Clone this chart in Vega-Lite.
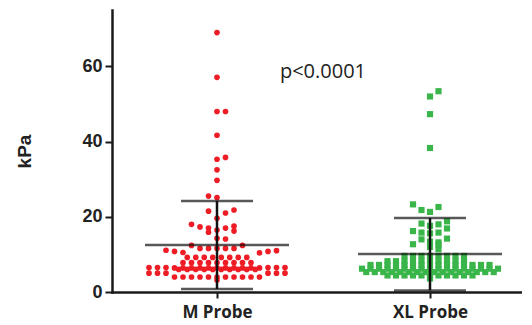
{
  "$schema": "https://vega.github.io/schema/vega-lite/v6.json",
  "autosize": "none",
  "width": 410,
  "height": 282,
  "padding": {"left": 112, "top": 10, "right": 0, "bottom": 33},
  "background": "white",
  "config": {"view": {"stroke": null}},
  "datasets": {
    "pts": [
      {"probe":"M Probe","kPa":69.0,"slot":0},{"probe":"M Probe","kPa":57.1,"slot":0},{"probe":"M Probe","kPa":48.0,"slot":0},{"probe":"M Probe","kPa":48.0,"slot":1},
      {"probe":"M Probe","kPa":41.7,"slot":0},{"probe":"M Probe","kPa":35.8,"slot":1},{"probe":"M Probe","kPa":35.3,"slot":0},{"probe":"M Probe","kPa":32.5,"slot":0},
      {"probe":"M Probe","kPa":29.7,"slot":0},{"probe":"M Probe","kPa":25.5,"slot":-1},{"probe":"M Probe","kPa":25.1,"slot":0},
      {"probe":"M Probe","kPa":21.5,"slot":-1},{"probe":"M Probe","kPa":21.0,"slot":1},{"probe":"M Probe","kPa":21.8,"slot":2},{"probe":"M Probe","kPa":19.6,"slot":0},
      {"probe":"M Probe","kPa":18.0,"slot":-3},{"probe":"M Probe","kPa":17.3,"slot":-2},{"probe":"M Probe","kPa":17.0,"slot":-1},{"probe":"M Probe","kPa":15.9,"slot":-1},
      {"probe":"M Probe","kPa":16.5,"slot":0},{"probe":"M Probe","kPa":17.0,"slot":1},{"probe":"M Probe","kPa":17.5,"slot":2},{"probe":"M Probe","kPa":16.2,"slot":2},
      {"probe":"M Probe","kPa":14.3,"slot":0},{"probe":"M Probe","kPa":14.1,"slot":1},
      {"probe":"M Probe","kPa":12.4,"slot":-3},{"probe":"M Probe","kPa":12.4,"slot":3},
      {"probe":"M Probe","kPa":11.6,"slot":-2},{"probe":"M Probe","kPa":11.6,"slot":-1},{"probe":"M Probe","kPa":11.6,"slot":0},{"probe":"M Probe","kPa":11.6,"slot":1},{"probe":"M Probe","kPa":11.6,"slot":2},
      {"probe":"M Probe","kPa":11.1,"slot":-6},{"probe":"M Probe","kPa":10.8,"slot":-5},{"probe":"M Probe","kPa":10.5,"slot":-4},{"probe":"M Probe","kPa":10.4,"slot":5},{"probe":"M Probe","kPa":10.8,"slot":6},{"probe":"M Probe","kPa":11.0,"slot":7},
      {"probe":"M Probe","kPa":9.2,"slot":-3.5},{"probe":"M Probe","kPa":9.2,"slot":-2.5},{"probe":"M Probe","kPa":9.2,"slot":-1.5},{"probe":"M Probe","kPa":9.2,"slot":-0.5},
      {"probe":"M Probe","kPa":9.2,"slot":0.5},{"probe":"M Probe","kPa":9.2,"slot":1.5},{"probe":"M Probe","kPa":9.2,"slot":2.5},{"probe":"M Probe","kPa":9.2,"slot":3.5},
      {"probe":"M Probe","kPa":7.8,"slot":-4},{"probe":"M Probe","kPa":7.8,"slot":-3},{"probe":"M Probe","kPa":7.8,"slot":-2},{"probe":"M Probe","kPa":7.8,"slot":-1},{"probe":"M Probe","kPa":7.8,"slot":0},
      {"probe":"M Probe","kPa":7.8,"slot":1},{"probe":"M Probe","kPa":7.8,"slot":2},{"probe":"M Probe","kPa":7.8,"slot":3},{"probe":"M Probe","kPa":7.8,"slot":4},
      {"probe":"M Probe","kPa":6.5,"slot":-8},{"probe":"M Probe","kPa":6.5,"slot":-7},{"probe":"M Probe","kPa":6.5,"slot":-6},{"probe":"M Probe","kPa":6.4,"slot":-5},{"probe":"M Probe","kPa":6.4,"slot":-4},
      {"probe":"M Probe","kPa":6.4,"slot":-3},{"probe":"M Probe","kPa":6.4,"slot":-2},{"probe":"M Probe","kPa":6.4,"slot":-1},{"probe":"M Probe","kPa":6.4,"slot":0},{"probe":"M Probe","kPa":6.4,"slot":1},
      {"probe":"M Probe","kPa":6.4,"slot":2},{"probe":"M Probe","kPa":6.4,"slot":3},{"probe":"M Probe","kPa":6.4,"slot":4},{"probe":"M Probe","kPa":6.4,"slot":5},{"probe":"M Probe","kPa":6.5,"slot":6},
      {"probe":"M Probe","kPa":6.5,"slot":7},{"probe":"M Probe","kPa":6.5,"slot":8},
      {"probe":"M Probe","kPa":6.0,"slot":-4.5},{"probe":"M Probe","kPa":6.0,"slot":-3.5},{"probe":"M Probe","kPa":6.0,"slot":-2.5},{"probe":"M Probe","kPa":6.0,"slot":-1.5},{"probe":"M Probe","kPa":6.0,"slot":-0.5},
      {"probe":"M Probe","kPa":6.0,"slot":0.5},{"probe":"M Probe","kPa":6.0,"slot":1.5},{"probe":"M Probe","kPa":6.0,"slot":2.5},{"probe":"M Probe","kPa":6.0,"slot":3.5},{"probe":"M Probe","kPa":6.0,"slot":4.5},
      {"probe":"M Probe","kPa":5.0,"slot":-8},{"probe":"M Probe","kPa":5.0,"slot":-7},{"probe":"M Probe","kPa":5.0,"slot":-6},{"probe":"M Probe","kPa":5.0,"slot":6},{"probe":"M Probe","kPa":5.0,"slot":7},{"probe":"M Probe","kPa":5.0,"slot":8},
      {"probe":"M Probe","kPa":4.0,"slot":-5},{"probe":"M Probe","kPa":4.0,"slot":-4},{"probe":"M Probe","kPa":4.0,"slot":-3},{"probe":"M Probe","kPa":4.0,"slot":-2},{"probe":"M Probe","kPa":4.0,"slot":-1},
      {"probe":"M Probe","kPa":4.0,"slot":0},{"probe":"M Probe","kPa":4.0,"slot":1},{"probe":"M Probe","kPa":4.0,"slot":2},{"probe":"M Probe","kPa":4.0,"slot":3},{"probe":"M Probe","kPa":4.0,"slot":4},{"probe":"M Probe","kPa":4.0,"slot":5},
      {"probe":"M Probe","kPa":3.2,"slot":0},

      {"probe":"XL Probe","kPa":53.4,"slot":1},{"probe":"XL Probe","kPa":52.0,"slot":0},{"probe":"XL Probe","kPa":47.3,"slot":0},{"probe":"XL Probe","kPa":38.3,"slot":0},
      {"probe":"XL Probe","kPa":23.3,"slot":-2},{"probe":"XL Probe","kPa":21.8,"slot":-1},{"probe":"XL Probe","kPa":21.3,"slot":0},{"probe":"XL Probe","kPa":22.6,"slot":1},
      {"probe":"XL Probe","kPa":18.2,"slot":-1},{"probe":"XL Probe","kPa":17.6,"slot":0},{"probe":"XL Probe","kPa":18.0,"slot":1},{"probe":"XL Probe","kPa":18.8,"slot":2},{"probe":"XL Probe","kPa":16.9,"slot":2},
      {"probe":"XL Probe","kPa":16.2,"slot":-2},{"probe":"XL Probe","kPa":15.8,"slot":-1},{"probe":"XL Probe","kPa":15.6,"slot":0},{"probe":"XL Probe","kPa":15.8,"slot":1},{"probe":"XL Probe","kPa":14.2,"slot":2},
      {"probe":"XL Probe","kPa":14.0,"slot":-1},{"probe":"XL Probe","kPa":13.4,"slot":0},{"probe":"XL Probe","kPa":13.2,"slot":1},{"probe":"XL Probe","kPa":12.7,"slot":-2},{"probe":"XL Probe","kPa":12.0,"slot":0},
      {"probe":"XL Probe","kPa":12.6,"slot":1},{"probe":"XL Probe","kPa":11.4,"slot":1},
      {"probe":"XL Probe","kPa":9.6,"slot":-3},{"probe":"XL Probe","kPa":9.6,"slot":-2},{"probe":"XL Probe","kPa":9.6,"slot":-1},{"probe":"XL Probe","kPa":9.6,"slot":0},
      {"probe":"XL Probe","kPa":9.6,"slot":1},{"probe":"XL Probe","kPa":9.6,"slot":2},{"probe":"XL Probe","kPa":9.6,"slot":3},{"probe":"XL Probe","kPa":9.6,"slot":4},
      {"probe":"XL Probe","kPa":8.2,"slot":-5},{"probe":"XL Probe","kPa":8.2,"slot":-4},{"probe":"XL Probe","kPa":8.2,"slot":-3},{"probe":"XL Probe","kPa":8.2,"slot":-2},{"probe":"XL Probe","kPa":8.2,"slot":-1},
      {"probe":"XL Probe","kPa":8.2,"slot":0},{"probe":"XL Probe","kPa":8.2,"slot":1},{"probe":"XL Probe","kPa":8.2,"slot":2},{"probe":"XL Probe","kPa":8.2,"slot":3},{"probe":"XL Probe","kPa":8.2,"slot":4},
      {"probe":"XL Probe","kPa":7.2,"slot":-7},{"probe":"XL Probe","kPa":7.2,"slot":-6},{"probe":"XL Probe","kPa":7.2,"slot":-5},{"probe":"XL Probe","kPa":7.2,"slot":-4},{"probe":"XL Probe","kPa":7.2,"slot":-3},
      {"probe":"XL Probe","kPa":7.2,"slot":-2},{"probe":"XL Probe","kPa":7.2,"slot":-1},{"probe":"XL Probe","kPa":7.2,"slot":0},{"probe":"XL Probe","kPa":7.2,"slot":1},{"probe":"XL Probe","kPa":7.2,"slot":2},
      {"probe":"XL Probe","kPa":7.2,"slot":3},{"probe":"XL Probe","kPa":7.2,"slot":4},{"probe":"XL Probe","kPa":7.2,"slot":5},{"probe":"XL Probe","kPa":7.2,"slot":6},{"probe":"XL Probe","kPa":7.2,"slot":7},
      {"probe":"XL Probe","kPa":6.2,"slot":-8},{"probe":"XL Probe","kPa":6.2,"slot":-7},{"probe":"XL Probe","kPa":6.2,"slot":-6},{"probe":"XL Probe","kPa":6.2,"slot":-5},{"probe":"XL Probe","kPa":6.2,"slot":-4},
      {"probe":"XL Probe","kPa":6.2,"slot":-3},{"probe":"XL Probe","kPa":6.2,"slot":-2},{"probe":"XL Probe","kPa":6.2,"slot":-1},{"probe":"XL Probe","kPa":6.2,"slot":0},{"probe":"XL Probe","kPa":6.2,"slot":1},
      {"probe":"XL Probe","kPa":6.2,"slot":2},{"probe":"XL Probe","kPa":6.2,"slot":3},{"probe":"XL Probe","kPa":6.2,"slot":4},{"probe":"XL Probe","kPa":6.2,"slot":5},{"probe":"XL Probe","kPa":6.2,"slot":6},
      {"probe":"XL Probe","kPa":6.2,"slot":7},{"probe":"XL Probe","kPa":6.2,"slot":8},
      {"probe":"XL Probe","kPa":5.3,"slot":-7.5},{"probe":"XL Probe","kPa":5.3,"slot":-6.5},{"probe":"XL Probe","kPa":5.3,"slot":-5.5},{"probe":"XL Probe","kPa":5.3,"slot":-4.5},
      {"probe":"XL Probe","kPa":5.3,"slot":-3.5},{"probe":"XL Probe","kPa":5.3,"slot":-2.5},{"probe":"XL Probe","kPa":5.3,"slot":-1.5},{"probe":"XL Probe","kPa":5.3,"slot":-0.5},
      {"probe":"XL Probe","kPa":5.3,"slot":0.5},{"probe":"XL Probe","kPa":5.3,"slot":1.5},{"probe":"XL Probe","kPa":5.3,"slot":2.5},{"probe":"XL Probe","kPa":5.3,"slot":3.5},
      {"probe":"XL Probe","kPa":5.3,"slot":4.5},{"probe":"XL Probe","kPa":5.3,"slot":5.5},{"probe":"XL Probe","kPa":5.3,"slot":6.5},{"probe":"XL Probe","kPa":5.3,"slot":7.5},
      {"probe":"XL Probe","kPa":4.4,"slot":-5},{"probe":"XL Probe","kPa":4.4,"slot":-4},{"probe":"XL Probe","kPa":4.4,"slot":-3},{"probe":"XL Probe","kPa":4.4,"slot":-2},{"probe":"XL Probe","kPa":4.4,"slot":-1},
      {"probe":"XL Probe","kPa":4.4,"slot":0},{"probe":"XL Probe","kPa":4.4,"slot":1},{"probe":"XL Probe","kPa":4.4,"slot":2},{"probe":"XL Probe","kPa":4.4,"slot":3},{"probe":"XL Probe","kPa":4.4,"slot":4},{"probe":"XL Probe","kPa":4.4,"slot":5},
      {"probe":"XL Probe","kPa":3.6,"slot":0}
    ],
    "stats": [
      {"probe":"M Probe","mean":12.5,"lo":0.8,"hi":24.2},
      {"probe":"XL Probe","mean":10.1,"lo":0.4,"hi":19.7}
    ],
    "note": [
      {"probe":"M Probe","kPa":58.4,"label":"p<0.0001"}
    ]
  },
  "encoding": {
    "x": {
      "field": "probe", "type": "nominal",
      "scale": {"type": "point", "domain": ["M Probe","XL Probe"], "padding": 0.4624, "align": 0.533},
      "axis": {
        "title": null, "labelAngle": 0,
        "labelFont": "Open Sans", "labelFontWeight": "bold", "labelFontSize": 17, "labelColor": "#222222",
        "labelPadding": 6,
        "domainColor": "#1a1a1a", "domainWidth": 2.5, "domainCap": "square",
        "tickColor": "#1a1a1a", "tickWidth": 2, "tickSize": 6
      }
    }
  },
  "layer": [
    {
      "data": {"name": "pts"},
      "mark": {"type": "point", "filled": true, "opacity": 1, "strokeWidth": 0},
      "encoding": {
        "y": {
          "field": "kPa", "type": "quantitative",
          "scale": {"domain": [0, 75], "nice": false, "zero": true},
          "axis": {
            "title": "kPa", "values": [0, 20, 40, 60], "grid": false,
            "labelFont": "Liberation Sans", "labelFontWeight": "bold", "labelFontSize": 18, "labelColor": "#222222",
            "labelPadding": 3,
            "titleFont": "Liberation Sans", "titleFontWeight": "bold", "titleFontSize": 19, "titleColor": "#222222",
            "titlePadding": 47,
            "domainColor": "#1a1a1a", "domainWidth": 2.5, "domainCap": "square",
            "tickColor": "#1a1a1a", "tickWidth": 2, "tickSize": 7
          }
        },
        "xOffset": {"field": "slot", "type": "quantitative", "scale": {"domain": [-10, 10], "range": [-85, 85]}},
        "color": {"field": "probe", "type": "nominal", "scale": {"domain": ["M Probe","XL Probe"], "range": ["#ee1c25", "#39b54a"]}, "legend": null},
        "shape": {"field": "probe", "type": "nominal", "scale": {"domain": ["M Probe","XL Probe"], "range": ["circle", "square"]}, "legend": null},
        "size": {"field": "probe", "type": "nominal", "scale": {"domain": ["M Probe","XL Probe"], "range": [32, 38]}, "legend": null}
      }
    },
    {
      "data": {"name": "stats"},
      "mark": {"type": "rule", "color": "#111111", "strokeWidth": 2.5},
      "encoding": {
        "y": {"field": "lo", "type": "quantitative"},
        "y2": {"field": "hi"}
      }
    },
    {
      "data": {"name": "stats"},
      "mark": {"type": "tick", "color": "#111111", "size": 144, "thickness": 2.5, "orient": "horizontal"},
      "encoding": {"y": {"field": "mean", "type": "quantitative"}}
    },
    {
      "data": {"name": "stats"},
      "mark": {"type": "tick", "color": "#111111", "size": 72, "thickness": 2.5, "orient": "horizontal"},
      "encoding": {"y": {"field": "hi", "type": "quantitative"}}
    },
    {
      "data": {"name": "stats"},
      "mark": {"type": "tick", "color": "#111111", "size": 72, "thickness": 2.5, "orient": "horizontal"},
      "encoding": {"y": {"field": "lo", "type": "quantitative"}}
    },
    {
      "data": {"name": "note"},
      "mark": {"type": "text", "font": "Open Sans", "fontSize": 20, "color": "#222222", "align": "center", "baseline": "middle", "dx": 106},
      "encoding": {
        "y": {"field": "kPa", "type": "quantitative"},
        "text": {"field": "label"}
      }
    }
  ]
}
